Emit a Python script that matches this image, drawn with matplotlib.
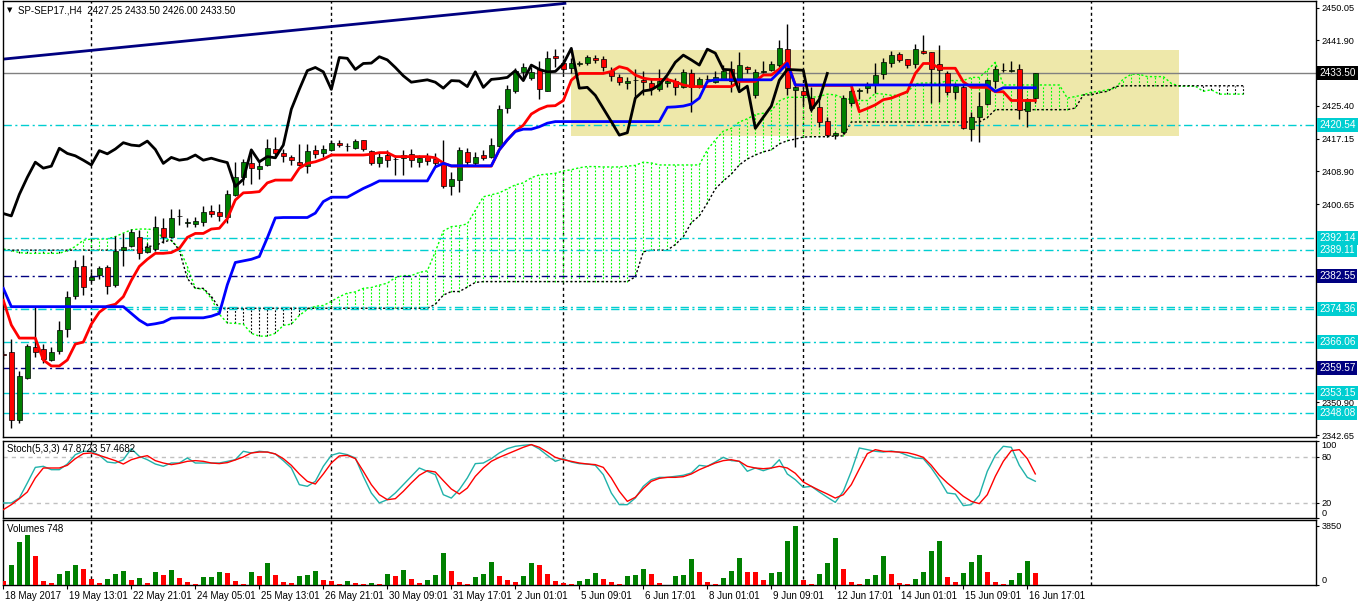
import matplotlib
matplotlib.use("Agg")
import matplotlib.pyplot as plt
from matplotlib.transforms import blended_transform_factory, ScaledTranslation
import numpy as np

# -----------------------
# DATA (bar index 0 = 18 May 2017)
# -----------------------
opens = [2363.0, 2363.4, 2346.4, 2357.1, 2364.8, 2364.2, 2361.5, 2363.8, 2369.2, 2377.6,
         2385.1, 2381.6, 2382.8, 2384.8, 2380.3, 2389.1, 2390.1, 2392.5, 2388.7, 2389.5,
         2394.6, 2392.5, 2397.6, 2396.0, 2395.7, 2396.1, 2398.9, 2398.7, 2397.5, 2403.0,
         2407.6, 2410.9, 2409.4, 2410.4, 2414.4, 2413.6, 2412.4, 2411.3, 2410.3, 2414.3,
         2413.4, 2414.3, 2415.9, 2415.2, 2414.8, 2416.8, 2414.1, 2411.1, 2413.0, 2411.9,
         2412.2, 2413.2, 2411.2, 2412.6, 2411.9, 2411.1, 2405.1, 2406.6, 2413.7, 2411.1,
         2413.0, 2412.6, 2415.3, 2424.7, 2429.1, 2433.9, 2432.3, 2434.5, 2429.2, 2437.9,
         2436.2, 2434.8, 2435.9, 2436.0, 2437.5, 2437.1, 2434.2, 2432.7, 2431.2, 2431.8,
         2431.8, 2431.0, 2429.5, 2431.0, 2431.7, 2430.2, 2433.7, 2430.2, 2432.0, 2431.3,
         2432.1, 2434.5, 2431.7, 2435.2, 2428.1, 2433.8, 2434.4, 2435.6, 2439.6, 2429.3,
         2429.0, 2427.3, 2425.0, 2421.6, 2418.0, 2418.9, 2426.0, 2429.2, 2429.8, 2430.6,
         2433.4, 2436.0, 2438.4, 2437.1, 2435.9, 2439.2, 2438.8, 2435.8, 2433.5, 2428.8,
         2430.2, 2419.5, 2422.6, 2425.8, 2431.7, 2434.3, 2434.2, 2434.5, 2424.1, 2427.25]
highs = [2363.8, 2366.7, 2358.7, 2365.5, 2374.9, 2365.5, 2364.8, 2371.4, 2378.9, 2386.6,
         2387.9, 2383.7, 2385.0, 2385.4, 2392.7, 2393.3, 2394.3, 2394.2, 2390.8, 2397.7,
         2397.3, 2399.4, 2399.4, 2397.1, 2397.5, 2400.3, 2400.4, 2400.7, 2404.2, 2411.2,
         2411.9, 2414.3, 2411.7, 2417.0, 2417.6, 2414.4, 2413.0, 2415.8, 2415.8, 2415.4,
         2415.4, 2416.8, 2416.8, 2416.1, 2417.0, 2416.9, 2414.3, 2413.8, 2414.3, 2413.0,
         2414.3, 2414.5, 2413.0, 2413.4, 2413.4, 2416.8, 2408.8, 2415.1, 2414.7, 2413.8,
         2414.3, 2417.4, 2425.6, 2430.6, 2434.8, 2436.0, 2435.0, 2436.5, 2439.2, 2439.6,
         2437.1, 2437.5, 2436.6, 2438.1, 2438.1, 2438.0, 2435.0, 2433.4, 2432.7, 2434.5,
         2434.0, 2432.3, 2434.5, 2432.5, 2432.3, 2434.5, 2434.5, 2432.5, 2433.0, 2434.0,
         2435.5, 2436.5, 2439.0, 2435.4, 2434.5, 2436.5, 2436.5, 2441.9, 2445.8, 2431.0,
         2430.0, 2430.2, 2427.3, 2422.5, 2418.8, 2428.1, 2430.6, 2429.8, 2431.3, 2436.0,
         2437.3, 2439.2, 2438.8, 2437.1, 2440.9, 2443.2, 2439.0, 2440.6, 2434.0, 2431.0,
         2430.8, 2423.9, 2428.9, 2432.1, 2435.4, 2436.2, 2436.7, 2435.9, 2427.3, 2433.5]
lows = [2361.8, 2344.5, 2345.7, 2356.6, 2362.3, 2360.8, 2361.3, 2363.0, 2367.4, 2376.8,
        2377.8, 2381.2, 2381.9, 2378.1, 2379.8, 2385.0, 2389.8, 2386.8, 2388.3, 2389.0,
        2390.8, 2392.2, 2395.4, 2394.8, 2395.0, 2395.2, 2397.5, 2396.5, 2396.0, 2402.8,
        2405.5, 2405.6, 2406.9, 2410.2, 2412.2, 2411.3, 2410.5, 2410.3, 2408.4, 2412.2,
        2412.6, 2414.0, 2415.0, 2414.1, 2414.4, 2414.0, 2410.4, 2410.1, 2410.1, 2408.0,
        2408.0, 2410.1, 2410.1, 2410.5, 2410.1, 2404.6, 2403.0, 2403.8, 2410.6, 2410.4,
        2411.7, 2412.3, 2415.0, 2423.5, 2428.5, 2432.3, 2431.9, 2427.0, 2429.0, 2435.2,
        2433.5, 2433.5, 2435.3, 2435.6, 2436.0, 2434.2, 2431.7, 2430.5, 2429.5, 2427.5,
        2428.2, 2428.2, 2429.2, 2430.0, 2428.2, 2429.8, 2423.9, 2429.9, 2431.0, 2431.0,
        2431.8, 2428.9, 2428.9, 2433.5, 2427.3, 2433.5, 2434.0, 2435.0, 2428.1, 2415.1,
        2425.5, 2423.9, 2420.1, 2417.6, 2417.0, 2418.3, 2425.3, 2427.0, 2428.6, 2428.5,
        2432.0, 2435.2, 2436.4, 2434.9, 2434.9, 2438.4, 2426.0, 2426.2, 2428.0, 2427.0,
        2419.5, 2416.6, 2416.3, 2425.5, 2429.8, 2433.9, 2433.9, 2422.0, 2420.1, 2426.0]
closes = [2362.8, 2346.4, 2357.5, 2365.0, 2363.6, 2361.7, 2363.6, 2369.0, 2377.4, 2384.8,
          2379.9, 2382.4, 2384.5, 2380.1, 2389.0, 2390.0, 2393.7, 2388.5, 2389.8, 2394.8,
          2392.3, 2397.3, 2397.8, 2396.2, 2396.4, 2398.6, 2398.3, 2397.7, 2403.1, 2407.4,
          2411.2, 2409.7, 2410.2, 2414.7, 2413.4, 2412.8, 2411.7, 2410.5, 2414.1, 2413.3,
          2414.5, 2416.1, 2415.5, 2415.3, 2416.5, 2414.4, 2410.9, 2412.4, 2411.7, 2412.0,
          2413.0, 2411.7, 2412.2, 2411.6, 2411.1, 2405.1, 2406.9, 2414.3, 2411.3, 2412.6,
          2412.3, 2415.5, 2424.5, 2429.5, 2434.2, 2435.0, 2433.9, 2429.5, 2437.5, 2437.3,
          2434.5, 2436.0, 2436.1, 2437.7, 2436.9, 2435.0, 2432.9, 2431.3, 2431.6, 2431.9,
          2431.3, 2429.8, 2431.7, 2431.6, 2430.2, 2433.9, 2430.0, 2432.0, 2432.2, 2432.5,
          2434.2, 2431.7, 2435.6, 2434.5, 2433.9, 2434.0, 2435.9, 2439.8, 2429.8, 2430.0,
          2428.0, 2424.7, 2421.4, 2418.0, 2418.6, 2427.3, 2429.1, 2429.4, 2430.6, 2433.1,
          2436.3, 2438.1, 2436.9, 2435.6, 2439.6, 2438.6, 2434.5, 2434.4, 2428.9, 2430.3,
          2419.7, 2422.5, 2425.3, 2431.8, 2434.5, 2434.4, 2434.3, 2424.3, 2427.0, 2433.5]

tenkan = [2376.5, 2370.3, 2367.0, 2367.0, 2367.0, 2361.5, 2360.0, 2360.0, 2361.5, 2365.5,
          2366.0, 2370.5, 2373.5, 2375.0, 2375.5, 2377.4, 2381.5, 2385.0, 2386.8, 2388.3,
          2388.3, 2388.5, 2389.5, 2392.3, 2393.3, 2393.3, 2394.4, 2394.6, 2397.0, 2401.7,
          2403.5, 2403.6, 2403.8, 2406.0, 2406.7, 2406.7, 2406.7, 2409.7, 2410.9, 2411.3,
          2412.0, 2413.0, 2413.0, 2413.0, 2413.0, 2413.0, 2413.2, 2413.6, 2413.6, 2412.6,
          2412.6, 2412.6, 2412.6, 2412.6, 2412.3, 2411.0, 2410.2, 2410.2, 2410.2, 2410.2,
          2410.2, 2410.2, 2414.3, 2416.8, 2419.0, 2420.5, 2423.3, 2424.5, 2425.3, 2425.4,
          2426.7, 2431.8, 2433.5, 2433.5, 2433.5, 2433.5, 2434.0, 2435.2, 2434.7, 2433.1,
          2432.3, 2432.0, 2432.0, 2432.0, 2431.4, 2430.6, 2430.2, 2430.2, 2430.2, 2430.2,
          2430.2, 2430.2, 2431.5, 2431.5, 2431.5, 2433.1, 2433.1, 2434.6, 2436.5, 2430.6,
          2430.5, 2430.5, 2430.5, 2430.5, 2430.5, 2430.5, 2430.5, 2423.9, 2424.7, 2425.6,
          2426.9, 2427.3, 2428.1, 2428.9, 2433.5, 2436.0, 2436.0, 2434.8, 2434.8, 2434.8,
          2431.4, 2430.0, 2430.0, 2430.0, 2428.9, 2428.9, 2426.7, 2426.7, 2426.7, 2426.7]
kijun = [2379.5, 2374.9, 2374.9, 2374.9, 2374.9, 2374.9, 2374.9, 2374.9, 2374.9, 2374.9,
         2374.9, 2374.9, 2374.9, 2374.9, 2374.9, 2374.9, 2373.2, 2371.5, 2370.3, 2370.6,
         2371.0, 2372.0, 2372.1, 2372.1, 2372.1, 2372.1, 2372.5, 2373.2, 2380.4, 2386.0,
         2386.4, 2386.8, 2387.5, 2392.2, 2397.2, 2397.3, 2397.3, 2397.3, 2397.3, 2398.4,
         2401.3, 2402.4, 2402.4, 2402.4, 2403.5, 2404.6, 2405.5, 2406.5, 2406.5, 2406.5,
         2406.5, 2406.5, 2406.5, 2406.5, 2410.0, 2410.9, 2410.3, 2410.3, 2410.3, 2410.3,
         2410.3, 2410.3, 2414.3, 2416.8, 2418.9, 2419.5, 2419.5, 2420.1, 2421.0, 2421.4,
         2421.4, 2421.4, 2421.4, 2421.4, 2421.4, 2421.4, 2421.4, 2421.4, 2421.4, 2421.4,
         2421.4, 2421.4, 2421.4, 2425.0, 2425.1, 2425.3, 2425.8, 2427.3, 2431.5, 2431.9,
         2431.9, 2431.9, 2431.9, 2431.9, 2431.9, 2431.9, 2431.9, 2433.9, 2436.0, 2430.6,
         2430.6, 2430.6, 2430.6, 2430.6, 2430.6, 2430.6, 2430.6, 2430.6, 2430.6, 2430.6,
         2430.6, 2430.6, 2430.6, 2430.6, 2430.6, 2430.6, 2430.6, 2430.6, 2430.6, 2430.6,
         2430.6, 2430.6, 2430.6, 2430.6, 2429.0, 2429.9, 2429.9, 2429.9, 2429.9, 2429.9]

# cloud, 26 bars further than the candles
span_a = [2389.4, 2389.0, 2388.5, 2388.3, 2388.3, 2388.3, 2388.3, 2388.3, 2389.0, 2390.0,
          2391.6, 2391.9, 2391.9, 2391.9, 2392.5, 2393.4, 2394.2, 2394.4, 2394.4, 2394.2,
          2392.0, 2391.5, 2389.5, 2385.0, 2379.5, 2379.3, 2377.0, 2373.0, 2370.8, 2370.7,
          2370.5, 2368.2, 2367.5, 2367.5, 2368.2, 2370.2, 2370.5, 2372.7, 2374.2, 2375.0,
          2375.2, 2376.2, 2377.4, 2378.3, 2378.6, 2379.5, 2379.7, 2380.3, 2380.8, 2382.2,
          2382.7, 2382.7, 2383.5, 2383.9, 2388.7, 2393.9, 2395.0, 2395.2, 2395.7, 2399.1,
          2402.5, 2403.0, 2403.5, 2404.5, 2405.5, 2406.0, 2407.3, 2408.0, 2408.2, 2408.4,
          2409.0, 2409.3, 2409.8, 2410.1, 2410.1, 2410.0, 2410.0, 2410.0, 2410.2, 2410.4,
          2411.2, 2411.0, 2410.5, 2410.5, 2410.5, 2410.5, 2410.5, 2410.5, 2414.3, 2416.8,
          2419.0, 2419.7, 2421.3, 2422.1, 2423.2, 2423.5, 2424.1, 2426.6, 2427.5, 2427.5,
          2427.5, 2427.5, 2427.7, 2428.3, 2428.1, 2427.3, 2426.9, 2426.7, 2426.7, 2428.5,
          2428.3, 2428.0, 2428.0, 2428.8, 2430.9, 2431.1, 2431.1, 2431.0, 2431.7, 2431.7,
          2431.7, 2432.5, 2432.5, 2434.3, 2436.3, 2430.6, 2430.6, 2430.6, 2430.6, 2430.6,
          2430.6, 2430.6, 2430.6, 2427.3, 2427.7, 2428.1, 2428.8, 2429.0, 2429.4, 2429.8,
          2432.1, 2433.3, 2433.3, 2432.7, 2432.7, 2432.7, 2431.0, 2430.3, 2430.3, 2430.3,
          2429.0, 2429.4, 2428.3, 2428.3, 2428.3, 2428.3]
span_b = [2389.1, 2389.1, 2389.1, 2389.1, 2389.1, 2389.1, 2389.1, 2389.1, 2389.1, 2389.1,
          2389.1, 2389.1, 2389.1, 2389.1, 2389.1, 2389.1, 2389.1, 2389.1, 2390.0, 2390.2,
          2391.2, 2391.6, 2389.1, 2382.0, 2379.5, 2379.5, 2377.5, 2374.5, 2374.5, 2374.5,
          2374.5, 2374.5, 2374.5, 2374.5, 2374.5, 2374.5, 2374.5, 2374.5, 2374.5, 2374.5,
          2374.5, 2374.5, 2374.5, 2374.5, 2374.5, 2374.5, 2374.5, 2374.5, 2374.5, 2374.5,
          2374.5, 2374.5, 2374.5, 2374.5, 2375.5, 2377.8, 2378.7, 2378.7, 2379.8, 2381.0,
          2381.2, 2381.2, 2381.2, 2381.2, 2381.2, 2381.2, 2381.2, 2381.2, 2381.2, 2381.2,
          2381.2, 2381.2, 2381.2, 2381.2, 2381.2, 2381.2, 2381.2, 2381.2, 2381.2, 2382.4,
          2388.7, 2389.1, 2389.1, 2389.1, 2390.5, 2392.5, 2396.0, 2397.7, 2400.9, 2404.5,
          2406.5, 2408.2, 2410.5, 2412.0, 2413.0, 2413.8, 2414.3, 2415.8, 2416.6, 2417.0,
          2417.5, 2417.6, 2417.6, 2417.6, 2417.8, 2417.8, 2421.3, 2421.3, 2421.3, 2421.3,
          2421.3, 2421.3, 2421.3, 2421.3, 2421.3, 2421.3, 2421.3, 2421.3, 2421.3, 2421.3,
          2421.3, 2421.3, 2421.3, 2422.4, 2424.4, 2424.4, 2424.4, 2424.4, 2424.4, 2424.4,
          2424.4, 2424.4, 2424.4, 2424.4, 2424.8, 2428.1, 2428.1, 2428.7, 2429.0, 2430.2,
          2430.4, 2430.4, 2430.4, 2430.4, 2430.4, 2430.4, 2430.4, 2430.4, 2430.4, 2430.4,
          2430.4, 2430.4, 2430.4, 2430.4, 2430.4, 2430.4]
chikou_shift = 26

stoch_k = [19.6, 19.6, 26.0, 45.7, 66.0, 67.4, 63.0, 63.0, 70.4, 82.6,
           87.0, 87.0, 81.7, 73.0, 71.7, 76.0, 90.4, 80.4, 76.0, 70.4,
           67.4, 71.7, 71.7, 78.3, 71.7, 71.7, 71.7, 71.7, 73.9, 76.0,
           87.0, 84.8, 87.0, 86.0, 83.5, 74.8, 65.2, 43.5, 41.3, 47.8,
           67.4, 81.7, 84.8, 82.6, 78.3, 54.3, 32.6, 19.6, 23.9, 32.6,
           43.5, 54.3, 65.2, 60.9, 56.5, 30.4, 26.0, 37.0, 52.2, 70.9,
           71.7, 77.4, 84.8, 90.4, 93.5, 94.8, 95.7, 90.0, 81.7, 73.9,
           77.4, 73.0, 70.9, 70.4, 68.7, 56.5, 32.6, 17.4, 17.4, 26.0,
           41.3, 50.0, 53.0, 53.0, 54.3, 55.7, 58.7, 68.7, 67.4, 73.0,
           79.1, 74.8, 73.9, 60.9, 65.2, 61.7, 65.2, 76.0, 57.4, 50.0,
           40.0, 41.3, 33.9, 27.0, 20.4, 34.8, 60.9, 91.3, 89.1, 87.0,
           86.0, 87.4, 85.7, 81.7, 78.3, 77.4, 65.2, 50.0, 32.6, 31.3,
           16.1, 17.4, 29.6, 60.9, 81.7, 93.5, 92.2, 68.7, 53.0, 47.9]
stoch_d = [10.9, 17.4, 25.2, 33.9, 52.2, 65.2, 65.2, 65.2, 68.7, 77.4,
           83.9, 84.8, 81.7, 78.3, 74.8, 70.4, 76.0, 79.1, 81.3, 74.8,
           71.7, 69.6, 71.3, 73.9, 74.8, 73.9, 71.7, 70.9, 72.2, 75.7,
           79.6, 84.8, 86.0, 86.0, 83.5, 77.4, 68.7, 57.4, 47.8, 44.3,
           57.4, 71.7, 80.9, 81.7, 77.4, 60.9, 43.5, 30.4, 23.9, 25.2,
           34.8, 45.7, 55.7, 61.7, 60.0, 48.7, 37.8, 31.3, 39.1, 54.3,
           65.2, 73.9, 79.1, 83.5, 87.8, 92.2, 95.7, 92.2, 86.0, 79.1,
           76.0, 73.9, 71.7, 70.4, 69.6, 66.0, 52.2, 34.8, 21.7, 27.0,
           38.3, 47.8, 51.7, 53.0, 53.0, 53.9, 57.4, 63.0, 67.4, 71.7,
           74.8, 76.0, 73.9, 67.4, 65.2, 64.3, 65.2, 67.4, 65.2, 58.3,
           47.0, 41.3, 36.1, 31.3, 26.0, 30.4, 43.5, 63.9, 83.9, 89.1,
           87.0, 86.5, 86.0, 85.2, 82.6, 79.1, 68.7, 55.7, 45.7, 37.0,
           28.3, 21.7, 18.7, 30.4, 54.3, 73.9, 87.8, 89.1, 77.4, 57.5]

volumes = [261, 1305, 2762, 3263, 1892, 261, 152, 740, 914, 1305,
           1066, 413, 152, 413, 740, 914, 326, 479, 152, 848,
           653, 979, 479, 218, 87, 522, 540, 848, 805, 261,
           87, 848, 587, 1392, 653, 196, 152, 587, 653, 914,
           326, 261, 87, 261, 130, 87, 130, 65, 740, 587,
           979, 370, 109, 326, 653, 2045, 914, 196, 87, 522,
           740, 1457, 587, 326, 196, 587, 1392, 1305, 740, 261,
           130, 87, 261, 413, 805, 413, 218, 87, 587, 653,
           1066, 740, 152, 22, 587, 653, 1675, 848, 196, 65,
           435, 914, 1740, 848, 830, 305, 783, 848, 2871, 3850,
           326, 65, 718, 1436, 3067, 1044, 196, 65, 370, 653,
           1892, 718, 130, 87, 370, 848, 2219, 2849, 522, 196,
           783, 1501, 1958, 848, 196, 65, 326, 783, 1566, 748]

time_labels = ["18 May 2017", "19 May 13:01", "22 May 21:01", "24 May 05:01",
               "25 May 13:01", "26 May 21:01", "30 May 09:01", "31 May 17:01",
               "2 Jun 01:01", "5 Jun 09:01", "6 Jun 17:01", "8 Jun 01:01",
               "9 Jun 09:01", "12 Jun 17:01", "14 Jun 01:01", "15 Jun 09:01",
               "16 Jun 17:01"]
label_step = 8
grid_bars = [11, 41, 70, 100, 136]

# price scale: ticks, and which of them keep a visible label
price_ticks = [2450.05, 2441.90, 2433.65, 2425.40, 2417.15, 2408.90, 2400.65,
               2392.40, 2383.90, 2367.40, 2359.15, 2350.90, 2342.65]
hidden_tick_labels = [2433.65, 2392.40, 2383.90, 2367.40, 2359.15]

# drawn objects
cyan_levels = [2420.54, 2392.14, 2389.11, 2374.90, 2374.36, 2366.06, 2353.15, 2348.08]
navy_levels = [2382.55, 2359.57]
labelled_cyan = [2420.54, 2392.14, 2389.11, 2374.36, 2366.06, 2353.15, 2348.08]
last_price = 2433.50
trend_bars = [0, 70.2]
trend_prices = [2437.1, 2451.1]
zone_bars = [71.0, 147.0]
zone_prices = [2417.8, 2439.4]

# -----------------------
# STYLE
# -----------------------
GREEN = "#008000"
RED = "#ff0000"
CYAN = "#00ced1"
NAVY = "#000080"
LIME = "#00ff00"
BLUE = "#0000ff"
ZONE = "#eee8aa"
SEAGREEN = "#20b2aa"
DOT = (0, (1.6, 1.6))
DASHDOT = (0, (6, 2.5, 1.5, 2.5))
FS = 6.6

plt.rcParams["font.family"] = ["Liberation Sans", "DejaVu Sans"]
plt.rcParams["font.size"] = FS

W, H = 1358, 606
fig = plt.figure(figsize=(W / 100, H / 100), dpi=100, facecolor="white")


def px_axes(x0, y0, x1, y1):
    return fig.add_axes([x0 / W, 1 - y1 / H, (x1 - x0) / W, (y1 - y0) / H])


RIGHT_PX = 1316
ax = px_axes(3, 1, RIGHT_PX, 437)
ax_st = px_axes(3, 441, RIGHT_PX, 518)
ax_vol = px_axes(3, 520, RIGHT_PX, 585)

x_left, x_right = -0.04, (RIGHT_PX - 3.3) / 8
for a in (ax, ax_st, ax_vol):
    a.set_xlim(x_left, x_right)
    for s in a.spines.values():
        s.set_color("black")
        s.set_linewidth(1)
    a.yaxis.tick_right()
    a.tick_params(axis="y", length=2.5, pad=1.5, labelsize=FS, colors="black")
    for g in grid_bars:
        a.axvline(g, color="black", lw=1, ls=(0, (2.2, 2.2)), zorder=1)

# -----------------------
# MAIN PANEL
# -----------------------
ax.set_ylim(2342.15, 2451.70)
ax.set_xticks([])
ax.set_yticks(price_ticks)
ax.set_yticklabels(["" if p in hidden_tick_labels else f"{p:.2f}" for p in price_ticks])

ax.fill_between(zone_bars, zone_prices[0], zone_prices[1], color=ZONE, lw=0, zorder=0)

# cloud
xs = np.arange(len(span_a))
sa = np.array(span_a)
sb = np.array(span_b)
hatch_colors = [LIME if a_ >= b_ else "black" for a_, b_ in zip(sa, sb)]
ax.vlines(xs, np.minimum(sa, sb), np.maximum(sa, sb), colors=hatch_colors,
          linestyles=DOT, lw=0.8, zorder=1.2)
ax.plot(xs, sa, color=LIME, lw=1, ls=DOT, zorder=1.3)
ax.plot(xs, sb, color="black", lw=1, ls=DOT, zorder=1.3)

# horizontal objects
for lvl in cyan_levels:
    ax.axhline(lvl, color=CYAN, lw=1, ls=DASHDOT, zorder=1.5)
for lvl in navy_levels:
    ax.axhline(lvl, color=NAVY, lw=1, ls=DASHDOT, zorder=1.5)
ax.axhline(last_price, color="#808080", lw=1, zorder=1.5)
ax.plot(trend_bars, trend_prices, color=NAVY, lw=2, zorder=1.6)

# candles
x = np.arange(len(closes))
o = np.array(opens)
c = np.array(closes)
up = c >= o
ax.vlines(x, lows, highs, color="black", lw=1, zorder=3)
ax.bar(x, np.abs(c - o), bottom=np.minimum(o, c), width=0.6,
       color=np.where(up, GREEN, RED), edgecolor="black", linewidth=0.5, zorder=4)

# ichimoku lines
ax.plot(x, tenkan, color=RED, lw=2, zorder=5)
ax.plot(x, kijun, color=BLUE, lw=2, zorder=5)
ax.plot(x[:len(closes) - chikou_shift], closes[chikou_shift:], color="black", lw=2, zorder=5)

# price boxes on the right scale
box_tr = blended_transform_factory(ax.transAxes, ax.transData) + \
    ScaledTranslation(3 / 100, 0, fig.dpi_scale_trans)


def price_box(price, fc):
    ax.text(1.0, price, f"{price:.2f}", transform=box_tr, ha="left", va="center",
            color="white", fontsize=FS + 0.6,
            bbox=dict(boxstyle="square,pad=0.2", fc=fc, ec="none"),
            clip_on=False, zorder=10)


for lvl in labelled_cyan:
    price_box(lvl, CYAN)
for lvl in navy_levels:
    price_box(lvl, NAVY)
price_box(last_price, "black")

fig.text(7 / W, 1 - 10.5 / H, "\u25bc", fontsize=5, va="center", ha="left",
         family="DejaVu Sans")
fig.text(18 / W, 1 - 10.5 / H, "SP-SEP17.,H4  2427.25 2433.50 2426.00 2433.50",
         fontsize=FS + 0.4, va="center", ha="left")

# -----------------------
# STOCHASTIC
# -----------------------
ax_st.set_ylim(0, 100.4)
ax_st.set_xticks([])
ax_st.axhline(80, color="#c0c0c0", lw=1, ls=(0, (3, 3)), zorder=1)
ax_st.axhline(20, color="#c0c0c0", lw=1, ls=(0, (3, 3)), zorder=1)
ax_st.plot(x, stoch_k, color=SEAGREEN, lw=1, zorder=3)
ax_st.plot(x, stoch_d, color=RED, lw=1, zorder=4)
ax_st.set_yticks([100, 80, 20, 0])
ax_st.set_yticklabels(["100", "80", "20", "0"])
st_labels = ax_st.get_yticklabels()
st_labels[0].set_va("top")
st_labels[3].set_va("bottom")
fig.text(7 / W, 1 - 449 / H, "Stoch(5,3,3) 47.8723 57.4682", fontsize=FS + 0.4, va="center")

# -----------------------
# VOLUMES
# -----------------------
ax_vol.set_ylim(0, 4206)
vol = np.array(volumes)
vol_colors = [RED] + [GREEN if vol[i] > vol[i - 1] else RED for i in range(1, len(vol))]
ax_vol.bar(x, vol, width=0.6, color=vol_colors, lw=0, zorder=3)
ax_vol.set_yticks([3850, 0])
ax_vol.set_yticklabels(["3850", "0"])
ax_vol.get_yticklabels()[1].set_va("bottom")
fig.text(7 / W, 1 - 529 / H, "Volumes 748", fontsize=FS + 0.4, va="center")

ax_vol.set_xticks(np.arange(0, len(closes), label_step))
ax_vol.set_xticklabels(time_labels, ha="left")
ax_vol.tick_params(axis="x", length=3, pad=1.5, labelsize=FS + 0.4)
for lab in ax_vol.get_xticklabels():
    lab.set_transform(lab.get_transform() + ScaledTranslation(1.5 / 100, 0, fig.dpi_scale_trans))

fig.savefig("out.png", dpi=100, facecolor="white")
